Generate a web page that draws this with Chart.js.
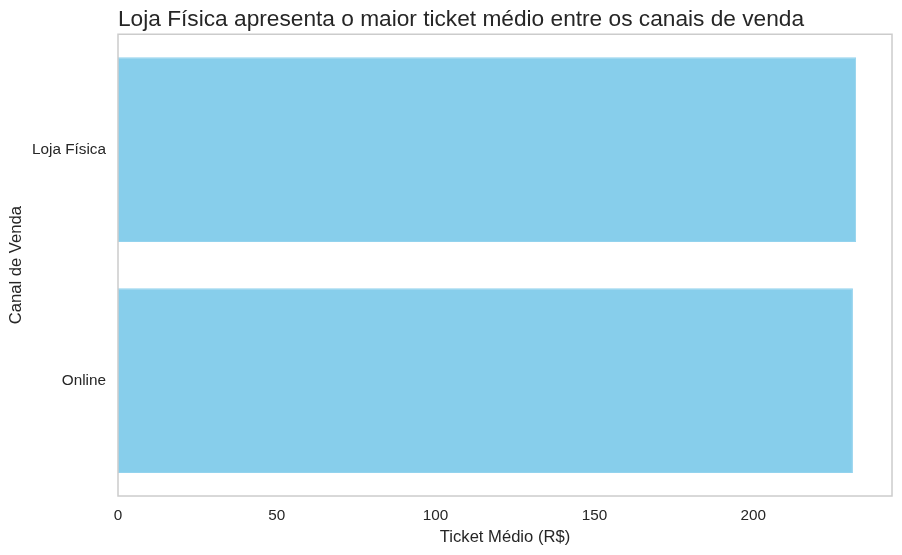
<!DOCTYPE html>
<html>
<head>
<meta charset="utf-8">
<script src="https://cdn.jsdelivr.net/npm/chart.js@4.4.1/dist/chart.umd.min.js"></script>
<style>
  html, body { margin: 0; padding: 0; background: #fff; }
  #wrap { width: 902px; height: 555px; }
</style>
</head>
<body>
<div id="wrap"><canvas id="ticketChart"></canvas></div>
<script>
// dados
const canais = ['Loja Física', 'Online'];
const ticketMedio = [232.4, 231.4];
const xTicks = [0, 50, 100, 150, 200];

const textColor = '#262626';
const fontFamily = '"Liberation Sans", Arial, sans-serif';

// moldura cinza em volta da área do gráfico (estilo seaborn whitegrid)
const frame = {
    id: 'frame',
    afterDatasetsDraw(chart) {
        const { ctx, chartArea: a } = chart;
        ctx.save();
        ctx.strokeStyle = '#cccccc';
        ctx.lineWidth = 1.5;
        ctx.strokeRect(a.left, a.top, a.right - a.left, a.bottom - a.top);
        ctx.restore();
    }
};

const ctx = document.getElementById('ticketChart');
new Chart(ctx, {
    type: 'bar',
    data: {
        labels: canais,
        datasets: [{
            data: ticketMedio,
            backgroundColor: '#87CEEB',
            borderColor: '#93d3ee',
            borderWidth: 1,
            borderSkipped: false,
            barPercentage: 0.8,
            categoryPercentage: 1.0
        }]
    },
    options: {
        indexAxis: 'y',
        responsive: true,
        maintainAspectRatio: false,
        animation: false,
        layout: { padding: { top: 5, right: 10, left: 4, bottom: 6 } },
        plugins: {
            legend: { display: false },
            tooltip: { enabled: false },
            title: {
                display: true,
                text: 'Loja Física apresenta o maior ticket médio entre os canais de venda',
                align: 'start',
                fullSize: false,
                color: textColor,
                font: { family: fontFamily, size: 22.7, weight: 'normal', lineHeight: 1.2 },
                padding: { top: 1, bottom: 1 }
            }
        },
        scales: {
            x: {
                min: 0,
                max: 243.7,
                afterBuildTicks(axis) {
                    axis.ticks = xTicks.map(v => ({ value: v }));
                },
                afterFit(axis) { axis.height = 53; },
                grid: { display: false, drawTicks: false },
                border: { display: false },
                ticks: {
                    color: textColor,
                    padding: 11,
                    maxRotation: 0,
                    font: { family: fontFamily, size: 15.3 }
                },
                title: {
                    display: true,
                    text: 'Ticket Médio (R$)',
                    color: textColor,
                    padding: { top: 4, bottom: 2 },
                    font: { family: fontFamily, size: 16.6 }
                }
            },
            y: {
                offset: true,
                afterFit(axis) { axis.width = 114; },
                grid: { display: false, drawTicks: false, offset: true },
                border: { display: false },
                ticks: {
                    color: textColor,
                    padding: 12,
                    font: { family: fontFamily, size: 15.3 }
                },
                title: {
                    display: true,
                    text: 'Canal de Venda',
                    color: textColor,
                    padding: { top: 2, bottom: 0 },
                    font: { family: fontFamily, size: 16.6 }
                }
            }
        }
    },
    plugins: [frame]
});
</script>
</body>
</html>
